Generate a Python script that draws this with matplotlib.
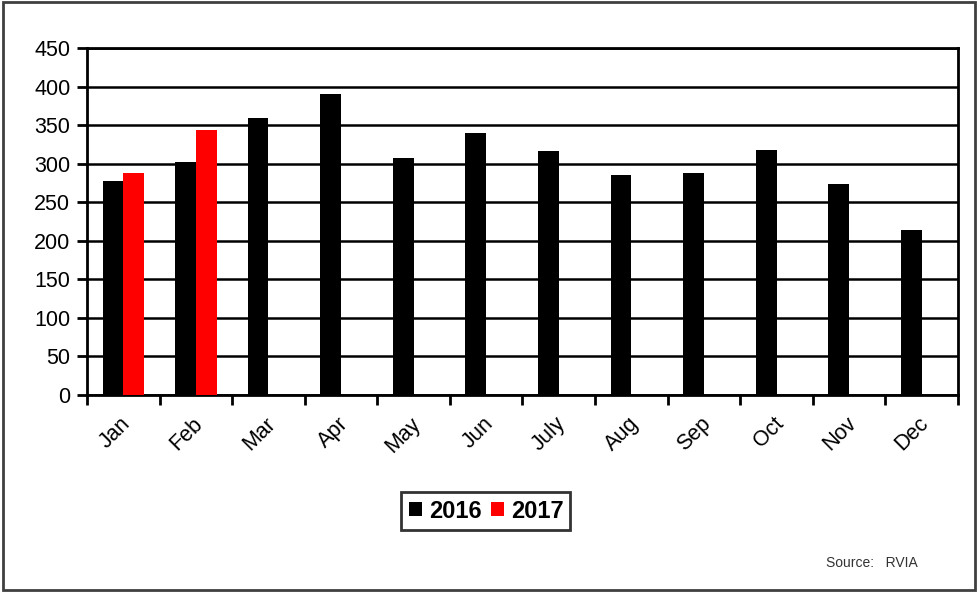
import matplotlib
matplotlib.use("Agg")
import matplotlib.pyplot as plt
from matplotlib.patches import Rectangle
import numpy as np

months = ["Jan", "Feb", "Mar", "Apr", "May", "Jun", "July", "Aug", "Sep", "Oct", "Nov", "Dec"]
sales_2016 = [278, 302, 359, 390, 307, 340, 317, 285, 288, 318, 273, 214]
sales_2017 = [288, 344, np.nan, np.nan, np.nan, np.nan, np.nan, np.nan, np.nan, np.nan, np.nan, np.nan]
yticks = [0, 50, 100, 150, 200, 250, 300, 350, 400, 450]

plt.rcParams["font.family"] = ["Liberation Sans", "DejaVu Sans"]

fig = plt.figure(figsize=(9.78, 5.92), dpi=100)
ax = fig.add_axes([87 / 978, 1 - 395 / 592, 871 / 978, 347 / 592])

x = np.arange(len(months))
w = 0.2857
ax.bar(x - w / 2, sales_2016, width=w, color="black", label="2016", zorder=3)
ax.bar(x + w / 2, sales_2017, width=w, color="#ff0000", label="2017", zorder=3)

ax.set_xlim(-0.5, len(months) - 0.5)
ax.set_ylim(0, 450)
ax.set_yticks(yticks)
ax.set_yticklabels([str(v) for v in yticks], fontsize=15.5)
ax.yaxis.grid(True, color="black", linewidth=1.8, zorder=1)
ax.set_axisbelow(True)

ax.set_xticks(np.arange(len(months) + 1) - 0.5, minor=False)
ax.set_xticklabels([])
ax.set_xticks(x - 0.05, minor=True)
ax.set_xticklabels(months, minor=True, rotation=45, ha="right",
                   rotation_mode="anchor", fontsize=15.5)
ax.tick_params(axis="x", which="minor", length=0, pad=13)
ax.tick_params(axis="x", which="major", length=7, width=2, direction="out")
ax.tick_params(axis="y", length=7, width=2, direction="out", pad=5)

for side in ["left", "bottom", "right", "top"]:
    ax.spines[side].set_linewidth(2)
    ax.spines[side].set_color("black")

leg = fig.legend(loc="center", bbox_to_anchor=(486 / 978, 1 - 511 / 592),
                 ncol=2, frameon=True, fancybox=False,
                 prop={"weight": "bold", "size": 17},
                 handlelength=0.55, handleheight=0.55, handletextpad=0.3,
                 columnspacing=0.4, borderpad=0.3, borderaxespad=0)
leg.get_frame().set_edgecolor("black")
leg.get_frame().set_linewidth(2)

fig.text(826 / 978, 1 - 563 / 592, "Source:   RVIA", fontsize=10, color="#333333",
         ha="left", va="center")

fig.patches.append(Rectangle((0.003, 0.003), 0.994, 0.994, transform=fig.transFigure,
                             fill=False, edgecolor="#404040", linewidth=2))

fig.savefig("out.png", dpi=100, facecolor="white")
